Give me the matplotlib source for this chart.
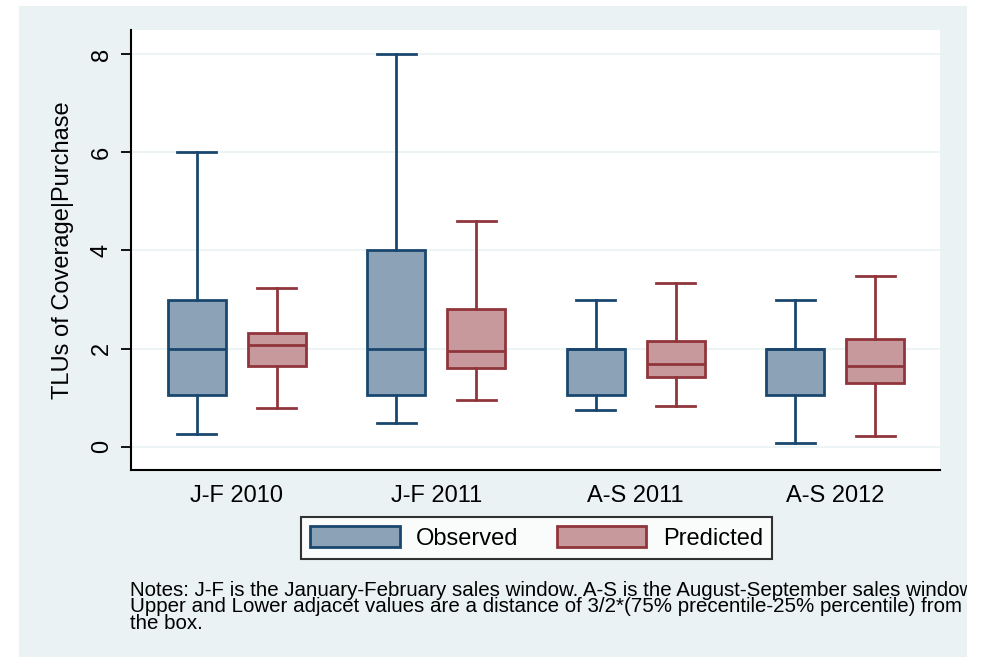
import matplotlib
matplotlib.use("Agg")
import matplotlib.pyplot as plt
from matplotlib.patches import Rectangle, Patch
from matplotlib.transforms import Bbox

plt.rcParams['font.family'] = ['Liberation Sans', 'DejaVu Sans']

# box plot statistics
categories = ['J-F 2010', 'J-F 2011', 'A-S 2011', 'A-S 2012']
obs_low = [0.27, 0.49, 0.75, 0.07]
obs_q1 = [1.05, 1.05, 1.05, 1.05]
obs_med = [2.0, 2.0, 2.0, 2.0]
obs_q3 = [3.0, 4.0, 2.0, 2.0]
obs_high = [6.0, 8.0, 3.0, 3.0]

pred_low = [0.79, 0.96, 0.84, 0.22]
pred_q1 = [1.65, 1.61, 1.43, 1.30]
pred_med = [2.08, 1.96, 1.69, 1.65]
pred_q3 = [2.32, 2.81, 2.16, 2.20]
pred_high = [3.24, 4.60, 3.34, 3.48]

series_names = ['Observed', 'Predicted']
edge_cols = ['#1A476F', '#90353B']
fill_cols = ['#8CA2B7', '#C8999C']
bg = '#EAF2F3'

fig = plt.figure(figsize=(9.82, 6.57), dpi=100)
fig.patch.set_facecolor('white')
# stata style light background panel
fig.patches.append(Rectangle((19 / 982, 0), (967 - 19) / 982, 1 - 6 / 657,
                             transform=fig.transFigure, facecolor=bg,
                             edgecolor='none', zorder=-10))

ax = fig.add_axes([131 / 982, 1 - 470 / 657, (940 - 131) / 982, 440 / 657])
ax.set_facecolor('white')


def make_stats(low, q1, med, q3, high):
    return [dict(whislo=a, q1=b, med=c, q3=d, whishi=e, fliers=[])
            for a, b, c, d, e in zip(low, q1, med, q3, high)]


groups = [
    make_stats(obs_low, obs_q1, obs_med, obs_q3, obs_high),
    make_stats(pred_low, pred_q1, pred_med, pred_q3, pred_high),
]
offsets = [-0.2, 0.2]

for stats, off, ec, fc in zip(groups, offsets, edge_cols, fill_cols):
    pos = [i + off for i in range(len(categories))]
    ax.bxp(stats, positions=pos, widths=0.29, capwidths=0.195,
           patch_artist=True, showfliers=False, manage_ticks=False,
           boxprops=dict(facecolor=fc, edgecolor=ec, linewidth=2),
           medianprops=dict(color=ec, linewidth=2),
           whiskerprops=dict(color=ec, linewidth=2),
           capprops=dict(color=ec, linewidth=2))

ax.set_xlim(-0.53, 3.525)
ax.set_ylim(-0.47, 8.49)
ax.set_yticks([0, 2, 4, 6, 8])
ax.set_xticks(range(len(categories)))
ax.set_xticklabels(categories)
ax.yaxis.grid(True, color=bg, linewidth=1.2)
ax.set_axisbelow(True)

for s in ['top', 'right']:
    ax.spines[s].set_visible(False)
for s in ['left', 'bottom']:
    ax.spines[s].set_linewidth(1.5)

ax.tick_params(axis='x', length=0, pad=11, labelsize=17)
ax.tick_params(axis='y', length=7, width=1.3, pad=6, labelsize=17,
               labelrotation=90)
for lab in ax.get_yticklabels():
    lab.set_va('center')

ax.set_ylabel('TLUs of Coverage|Purchase', fontsize=17, labelpad=12)

handles = [Patch(facecolor=fc, edgecolor=ec, linewidth=2)
           for fc, ec in zip(fill_cols, edge_cols)]
leg = fig.legend(handles, series_names, ncol=2, loc='upper center',
                 bbox_to_anchor=(536.5 / 982, 1 - 517 / 657),
                 fontsize=17, frameon=True, fancybox=False,
                 handlelength=3.8, handleheight=0.93, handletextpad=0.7,
                 columnspacing=1.6, borderpad=0.4, borderaxespad=0)
leg.get_frame().set_edgecolor('black')
leg.get_frame().set_linewidth(1.5)
leg.get_frame().set_facecolor('white')

notes = ("Notes: J-F is the January-February sales window. A-S is the August-September sales window.\n"
         "Upper and Lower adjacet values are a distance of 3/2*(75% precentile-25% percentile) from\n"
         "the box.")
t = fig.text(130 / 982, 1 - 581 / 657, notes, fontsize=14.8, va='top',
             ha='left', linespacing=0.82)
# the panel cuts the notes off at its right edge
t.set_clip_box(Bbox([[0, 0], [967, 657]]))
t.set_clip_on(True)

fig.savefig('out.png', dpi=100, facecolor=fig.get_facecolor())
